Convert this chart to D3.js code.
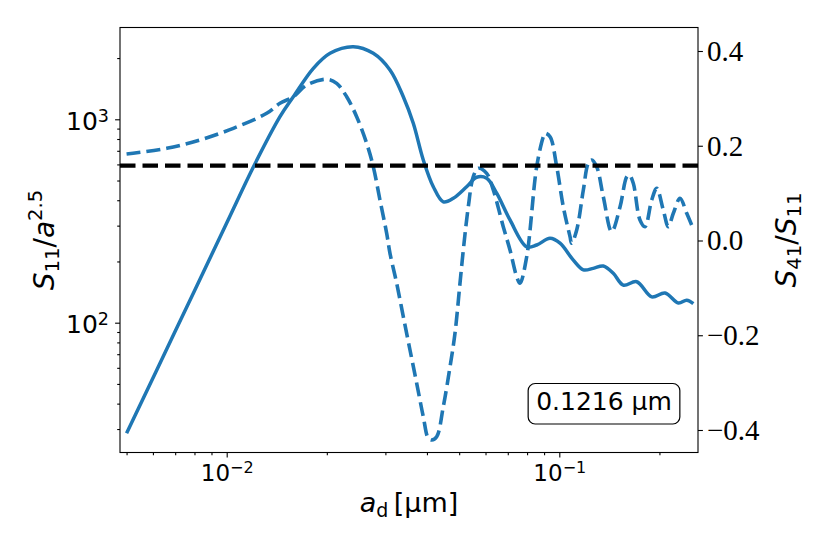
<!DOCTYPE html>
<html><head><meta charset="utf-8">
<script src="https://cdn.jsdelivr.net/npm/d3@7"></script>
<style>body{margin:0;background:#fff} svg{display:block}</style>
</head><body>
<svg id="c" width="830" height="554"></svg>
<script>
// ---- data ----
const aSolid = [0.005, 0.007, 0.01, 0.01208, 0.01446, 0.01586, 0.01822, 0.02045, 0.02402, 0.02759, 0.03097, 0.03396, 0.03639, 0.0390, 0.0418, 0.04479, 0.04801, 0.05265, 0.05643, 0.06048, 0.06482, 0.07108, 0.0798, 0.08553, 0.09377, 0.1005, 0.1102, 0.1181, 0.1265, 0.1356, 0.1453, 0.1557, 0.1709, 0.1896, 0.2079, 0.228, 0.2416, 0.2529];
const s11Solid = [28.6, 90.7, 309, 591, 1030, 1291, 1781, 2111, 2275, 2111, 1748, 1291, 956, 631, 466, 393, 409, 466, 519, 513, 433, 320, 236, 241, 260, 246, 203, 182, 185, 190, 175, 153, 159, 134, 140, 125, 129, 124];

const aDashed = [0.005, 0.0066, 0.0083, 0.01047, 0.01319, 0.01446, 0.01586, 0.0174, 0.0200, 0.02141, 0.02295, 0.02459, 0.02635, 0.02759, 0.02889, 0.03027, 0.03097, 0.03244, 0.03396, 0.03557, 0.03726, 0.0390, 0.04037, 0.04134, 0.04279, 0.04479, 0.04693, 0.04857, 0.05028, 0.05145, 0.05326, 0.05513, 0.05707, 0.06048, 0.06332, 0.06784, 0.07108, 0.07445, 0.07616, 0.0798, 0.08551, 0.08953, 0.09059, 0.09379, 0.09822, 0.1028, 0.1077, 0.1089, 0.1128, 0.1181, 0.1222, 0.1251, 0.1295, 0.1356, 0.1437, 0.1523, 0.1595, 0.1624, 0.1669, 0.1748, 0.1810, 0.1896, 0.1963, 0.2054, 0.2127, 0.2202, 0.2306, 0.2416, 0.2500];
const s41Dashed = [0.1826, 0.1946, 0.2121, 0.2368, 0.2685, 0.2896, 0.3035, 0.3282, 0.3403, 0.3318, 0.3035, 0.2613, 0.2052, 0.1558, 0.0855, 0.0152, -0.0270, -0.0903, -0.1608, -0.2311, -0.3014, -0.3719, -0.4175, -0.4211, -0.4141, -0.3508, -0.2664, -0.1959, -0.0903, -0.0201, 0.0713, 0.1347, 0.1524, 0.1418, 0.1066, 0.0291, -0.0200, -0.0764, -0.0903, -0.0342, 0.1558, 0.2191, 0.2263, 0.2191, 0.1558, 0.0713, 0.0080, -0.0059, 0.0222, 0.1066, 0.1630, 0.1699, 0.1558, 0.0925, 0.0186, 0.0713, 0.1347, 0.1383, 0.1207, 0.0433, 0.0291, 0.0855, 0.1102, 0.0644, 0.0291, 0.0574, 0.0891, 0.0574, 0.0327];

const refLevel = 0.158;               // black dashed reference (right axis)
const xMajorTicks = [0.01, 0.1];
const xMajorExps = ["\u22122", "\u22121"];
const xMinorTicks = [0.005,0.006,0.007,0.008,0.009,0.02,0.03,0.04,0.05,0.06,0.07,0.08,0.09,0.2];
const yLMajorTicks = [100, 1000];
const yLMajorExps = ["2", "3"];
const yLMinorTicks = [30,40,50,60,70,80,90,200,300,400,500,600,700,800,900,2000];
const yRTicks = [-0.4, -0.2, 0.0, 0.2, 0.4];
const yRTickLabels = ["\u22120.4", "\u22120.2", "0.0", "0.2", "0.4"];
const annotationText = "0.1216 \u00b5m";

// ---- layout ----
const L = 120, R = 698, T = 27.5, B = 452.5;
const blue = "#1f77b4";
const svg = d3.select("#c");

const x = d3.scaleLog().domain([Math.pow(10, -2.3208), Math.pow(10, -0.583)]).range([L, R]);
const yL = d3.scaleLog().domain([Math.pow(10, 1.3618), Math.pow(10, 3.4513)]).range([B, T]);
const yR = d3.scaleLinear().domain([-0.4475, 0.4496]).range([B, T]);

svg.append("defs").append("clipPath").attr("id", "clip")
  .append("rect").attr("x", L).attr("y", T).attr("width", R - L).attr("height", B - T);

const sans = "DejaVu Sans, sans-serif";
const serif = "Liberation Serif, DejaVu Serif, serif";

// ---- axes ----
function styleAxis(g) {
  g.select(".domain").remove();
  g.selectAll(".tick line").attr("stroke", "#000").attr("stroke-width", 1.1);
}
svg.append("g").attr("transform", `translate(0,${B})`)
  .call(d3.axisBottom(x).tickValues(xMinorTicks).tickSize(2.8).tickFormat(""))
  .call(styleAxis);
const gxM = svg.append("g").attr("transform", `translate(0,${B})`)
  .call(d3.axisBottom(x).tickValues(xMajorTicks).tickSize(4.9).tickFormat(""))
  .call(styleAxis);
gxM.selectAll(".tick").each(function(d, i) {
  const t = d3.select(this).append("text")
    .attr("y", 28).attr("fill", "#000").attr("text-anchor", "middle")
    .style("font-family", sans).style("font-size", "23px");
  t.append("tspan").text("10");
  t.append("tspan").attr("dy", "-0.45em").style("font-size", "16px").text(xMajorExps[i]);
});
svg.append("g").attr("transform", `translate(${L},0)`)
  .call(d3.axisLeft(yL).tickValues(yLMinorTicks).tickSize(2.8).tickFormat(""))
  .call(styleAxis);
const gyL = svg.append("g").attr("transform", `translate(${L},0)`)
  .call(d3.axisLeft(yL).tickValues(yLMajorTicks).tickSize(4.9).tickFormat(""))
  .call(styleAxis);
gyL.selectAll(".tick").each(function(d, i) {
  const t = d3.select(this).append("text")
    .attr("x", -11).attr("y", 10).attr("fill", "#000").attr("text-anchor", "end")
    .style("font-family", sans).style("font-size", "25px");
  t.append("tspan").text("10");
  t.append("tspan").attr("dy", "-0.45em").style("font-size", "17.5px").text(yLMajorExps[i]);
});
const gyR = svg.append("g").attr("transform", `translate(${R},0)`)
  .call(d3.axisRight(yR).tickValues(yRTicks).tickSize(4.9).tickFormat((d, i) => yRTickLabels[i]))
  .call(styleAxis);
gyR.selectAll(".tick text").attr("x", 9).attr("fill", "#000")
  .style("font-family", serif).style("font-size", "29px");

// ---- lines ----
const plot = svg.append("g").attr("clip-path", "url(#clip)");
const lineL = d3.line().x(d => x(d[0])).y(d => yL(d[1])).curve(d3.curveCatmullRom.alpha(0.5));
const lineR = d3.line().x(d => x(d[0])).y(d => yR(d[1])).curve(d3.curveCatmullRom.alpha(0.5));

plot.append("path").datum(d3.zip(aSolid, s11Solid)).attr("d", lineL)
  .attr("fill", "none").attr("stroke", blue).attr("stroke-width", 3.5).attr("stroke-linejoin", "round");
plot.append("path").datum(d3.zip(aDashed, s41Dashed)).attr("d", lineR)
  .attr("fill", "none").attr("stroke", blue).attr("stroke-width", 3.6)
  .attr("stroke-dasharray", "14,6");
plot.append("line")
  .attr("x1", x(x.domain()[0])).attr("x2", x(x.domain()[1]))
  .attr("y1", yR(refLevel)).attr("y2", yR(refLevel))
  .attr("stroke", "#000").attr("stroke-width", 4.2).attr("stroke-dasharray", "15.5,7");

svg.append("rect").attr("x", L).attr("y", T).attr("width", R - L).attr("height", B - T)
  .attr("fill", "none").attr("stroke", "#000").attr("stroke-width", 1.1);

// ---- annotation box ----
const ann = svg.append("g");
const annRect = ann.append("rect");
const annText = ann.append("text").attr("x", 604).attr("y", 410).attr("text-anchor", "middle")
  .style("font-family", sans).style("font-size", "25px").attr("fill", "#000").text(annotationText);
const bb = annText.node().getBBox();
annRect.attr("x", bb.x - 8).attr("y", 383.5).attr("width", bb.width + 16).attr("height", 40.5)
  .attr("rx", 7).attr("fill", "#fff").attr("stroke", "#000").attr("stroke-width", 1.2);

// ---- axis labels ----
const xl = svg.append("text").attr("x", (L + R) / 2).attr("y", 512).attr("text-anchor", "middle")
  .style("font-family", sans).style("font-size", "27px").attr("fill", "#000");
xl.append("tspan").style("font-style", "italic").text("a");
xl.append("tspan").attr("dy", 5).style("font-size", "19px").text("d");
xl.append("tspan").attr("dy", -5).text("\u2009[\u00b5m]");

const yl = svg.append("text").attr("transform", `translate(54,${(T + B) / 2}) rotate(-90)`)
  .attr("text-anchor", "middle").style("font-family", sans).style("font-size", "28px").attr("fill", "#000");
yl.append("tspan").style("font-style", "italic").text("S");
yl.append("tspan").attr("dy", 5).style("font-size", "19.6px").text("11");
yl.append("tspan").attr("dy", -5).text("/");
yl.append("tspan").style("font-style", "italic").text("a");
yl.append("tspan").attr("dy", -12).style("font-size", "19.6px").text("2.5");

const yr = svg.append("text").attr("transform", `translate(796,${(T + B) / 2}) rotate(-90)`)
  .attr("text-anchor", "middle").style("font-family", sans).style("font-size", "28px").attr("fill", "#000");
yr.append("tspan").style("font-style", "italic").text("S");
yr.append("tspan").attr("dy", 5).style("font-size", "19.6px").text("41");
yr.append("tspan").attr("dy", -5).text("/");
yr.append("tspan").style("font-style", "italic").text("S");
yr.append("tspan").attr("dy", 5).style("font-size", "19.6px").text("11");
</script>
</body></html>
